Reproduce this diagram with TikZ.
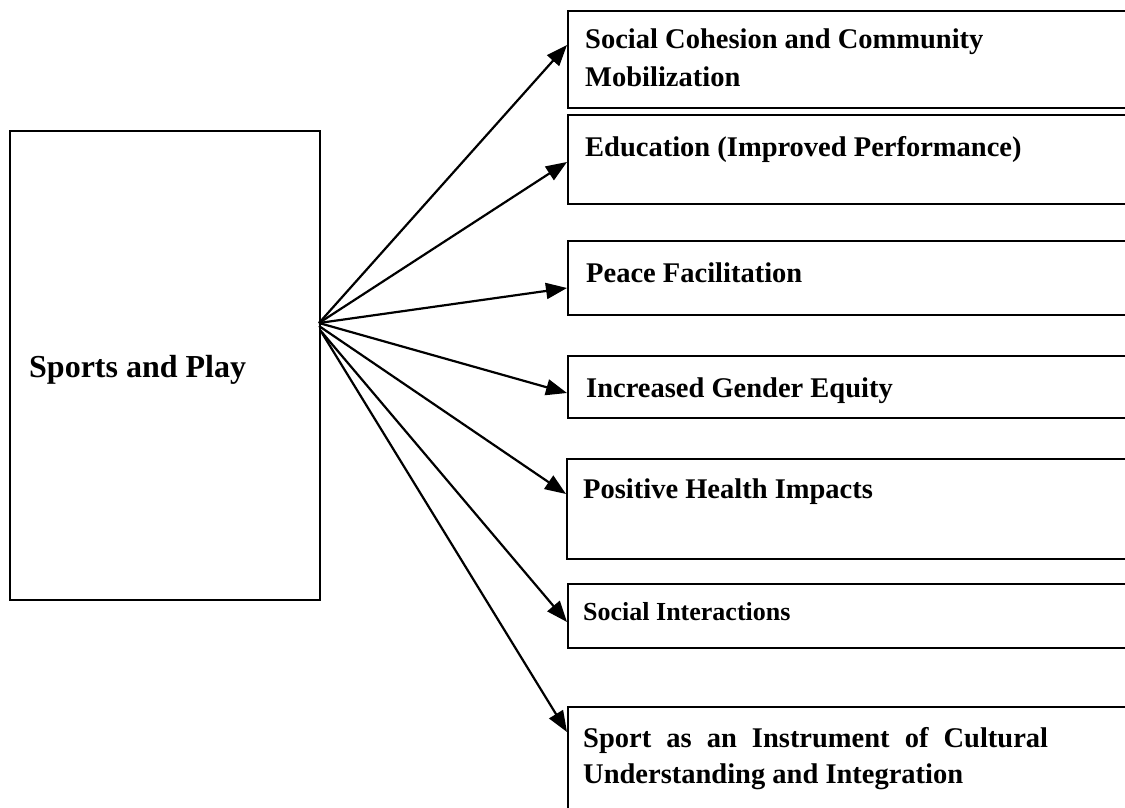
\documentclass[tikz,border=0pt]{standalone}
\usepackage{fontspec}
\setmainfont{Liberation Serif}
\usetikzlibrary{arrows.meta}
\begin{document}
\begin{tikzpicture}[x=1pt,y=-1pt,
  box/.style={draw, line width=2.2pt, rectangle, inner sep=0pt, anchor=north west, minimum width=573pt},
  lbl/.style={font=\bfseries\fontsize{28.5}{37}\selectfont, inner sep=0pt, anchor=base west, align=left},
  lblsm/.style={font=\bfseries\fontsize{26}{34}\selectfont, inner sep=0pt, anchor=base west},
  lblbig/.style={font=\bfseries\fontsize{32}{38}\selectfont, inner sep=0pt, anchor=base west},
  conn/.style={line width=2.2pt, -{Triangle[length=21pt,width=16pt]}}]
\useasboundingbox (0,0) rectangle (1125,808);
\clip (0,0) rectangle (1125,808);
% source
\node[box, minimum width=310pt, minimum height=469pt] (src) at (9,130) {};
\node[lblbig] (ts) at (29,377) {Sports and Play};
\coordinate (o1) at (319,323);
\coordinate (o2) at (319,326);
\coordinate (o3) at (320,330);
\coordinate (o4) at (322,333);
% targets
\node[box, minimum height=97pt] (b1) at (567,10) {};
\node[box, minimum height=89pt] (b2) at (567,114) {};
\node[box, minimum height=74pt] (b3) at (567,240) {};
\node[box, minimum height=62pt] (b4) at (567,355) {};
\node[box, minimum height=100pt] (b5) at (566,458) {};
\node[box, minimum height=64pt] (b6) at (567,583) {};
\node[box, minimum height=130pt] (b7) at (567,706) {};
% texts (multi-line nodes: base = last line)
\node[lbl] (t1) at (585,86) {Social Cohesion and Community\\Mobilization};
\node[lbl] (t2) at (585,156) {Education (Improved Performance)};
\node[lbl] (t3) at (586,282) {Peace Facilitation};
\node[lbl] (t4) at (586,397) {Increased Gender Equity};
\node[lbl] (t5) at (583,498) {Positive Health Impacts};
\node[lblsm] (t6) at (583,620) {Social Interactions};
\node[lbl, align=left, font=\bfseries\fontsize{28.5}{36}\selectfont] (t7) at (583,783)
  {\hbox to 465pt{Sport\hfil as\hfil an\hfil Instrument\hfil of\hfil Cultural}\\Understanding and Integration};
% connectors
\draw[conn] (o1) -- ([yshift=-35pt]b1.north west);
\draw[conn] (o1) -- ([yshift=-48pt]b2.north west);
\draw[conn] (o1) -- ([yshift=-48pt]b3.north west);
\draw[conn] (o1) -- ([yshift=-38pt]b4.north west);
\draw[conn] (o2) -- ([yshift=-36pt]b5.north west);
\draw[conn] (o3) -- ([yshift=-39pt]b6.north west);
\draw[conn] (o4) -- ([yshift=-26pt]b7.north west);
\end{tikzpicture}
\end{document}
